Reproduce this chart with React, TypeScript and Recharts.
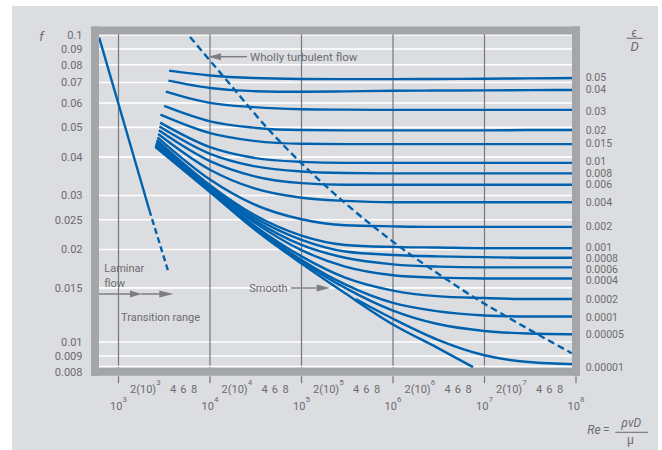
import React from 'react';
import { LineChart, Line, XAxis, YAxis, CartesianGrid, ReferenceLine } from 'recharts';

// ---------- colours / fonts ----------
const BLUE = '#0062ae';
const TEXT = '#6b6c6f';
const BAR = '#a3a5a8';
const GRIDV = '#76777a';
const BG = '#dcdde0';
const ARROW = '#7d7e81';
const FONT = 'Roboto, "Liberation Sans", "DejaVu Sans", sans-serif';

// ---------- axes ----------
const xDomain: [number, number] = [553.5, 1e8];
const yDomain: [number, number] = [0.008, 0.1034];
const xTicks = [1e3, 1e4, 1e5, 1e6, 1e7, 1e8];
const yTicks = [0.1, 0.09, 0.08, 0.07, 0.06, 0.05, 0.04, 0.03, 0.025, 0.02, 0.015, 0.01, 0.009, 0.008];
const bottomWhiteLine = 0.00832;

// right-hand relative-roughness labels and their f positions
const epsLabels = ['0.05', '0.04', '0.03', '0.02', '0.015', '0.01', '0.008', '0.006', '0.004', '0.002', '0.001', '0.0008', '0.0006', '0.0004', '0.0002', '0.0001', '0.00005', '0.00001'];
const epsLabelF = [0.0728, 0.0665, 0.0564, 0.049, 0.0444, 0.0387, 0.0354, 0.0326, 0.0286, 0.0238, 0.0203, 0.0187, 0.0172, 0.0159, 0.0138, 0.012, 0.0106, 0.00825];

// ---------- transition-zone curves ----------
const reGrid = [1e4, 3e4, 1e5, 3e5, 1e6, 3e6, 1e7, 3e7, 1e8];
const startRe = [3577, 3515, 3292, 3155, 2873, 2852, 2803, 2761, 2713, 2666, 2620, 2600, 2580, 2560, 2550, 2540, 2530];
const startF = [0.0765, 0.071, 0.0654, 0.0587, 0.055, 0.0518, 0.0503, 0.0489, 0.0476, 0.0464, 0.0455, 0.045, 0.0446, 0.0442, 0.0438, 0.0436, 0.0434];

const f_05 = [0.0738, 0.0724, 0.0719, 0.0718, 0.0718, 0.0719, 0.072, 0.0722, 0.0724];
const f_04 = [0.0672, 0.0656, 0.0653, 0.0655, 0.0658, 0.0659, 0.066, 0.0661, 0.0662];
const f_03 = [0.0601, 0.0582, 0.0573, 0.0571, 0.057, 0.057, 0.057, 0.057, 0.057];
const f_02 = [0.0523, 0.0499, 0.049, 0.0489, 0.0489, 0.0489, 0.0489, 0.049, 0.049];
const f_015 = [0.0479, 0.0452, 0.0442, 0.0441, 0.0441, 0.0441, 0.0441, 0.0441, 0.0441];
const f_01 = [0.0431, 0.0398, 0.0386, 0.0383, 0.0383, 0.0383, 0.0383, 0.0383, 0.0383];
const f_008 = [0.041, 0.0374, 0.0359, 0.0355, 0.0354, 0.0354, 0.0354, 0.0354, 0.0354];
const f_006 = [0.0388, 0.0347, 0.0329, 0.0325, 0.0325, 0.0325, 0.0325, 0.0325, 0.0325];
const f_004 = [0.0364, 0.0317, 0.0295, 0.0288, 0.0285, 0.0285, 0.0285, 0.0285, 0.0285];
const f_002 = [0.0338, 0.0281, 0.0251, 0.024, 0.0238, 0.0237, 0.0237, 0.0237, 0.0237];
const f_001 = [0.0324, 0.026, 0.0222, 0.0207, 0.0204, 0.0203, 0.0202, 0.0202, 0.0202];
const f_0008 = [0.0321, 0.0255, 0.0215, 0.0197, 0.0192, 0.019, 0.0189, 0.0188, 0.0188];
const f_0006 = [0.0318, 0.025, 0.0207, 0.0188, 0.0179, 0.0176, 0.0175, 0.0175, 0.0175];
const f_0004 = [0.0315, 0.0246, 0.0199, 0.0176, 0.0165, 0.0162, 0.0161, 0.0161, 0.0161];
const f_0002 = [0.0312, 0.024, 0.019, 0.0162, 0.0147, 0.0141, 0.0139, 0.0138, 0.0138];
const f_0001 = [0.031, 0.0238, 0.0185, 0.0154, 0.0134, 0.0126, 0.0122, 0.0121, 0.0121];
const f_00005 = [0.0309, 0.0236, 0.0183, 0.015, 0.01265, 0.01146, 0.01086, 0.01066, 0.0106];

const roughSeries = [f_05, f_04, f_03, f_02, f_015, f_01, f_008, f_006, f_004, f_002, f_001, f_0008, f_0006, f_0004, f_0002, f_0001, f_00005];

// ε/D = 0.00001 branch (leaves the smooth curve)
const re_00001 = [3.9e5, 1e6, 3e6, 1e7, 3e7, 1e8];
const f_00001 = [0.0138, 0.0119, 0.0102, 0.00905, 0.0086, 0.00846];

// smooth pipe
const reSmooth = [2520, 1e4, 3e4, 1e5, 3e5, 1e6, 3e6, 7.5e6];
const fSmooth = [0.0432, 0.0308, 0.0234, 0.018, 0.0144, 0.0114, 0.0096, 0.00828];

// laminar flow
const reLaminar = [615, 2171];
const fLaminar = [0.098, 0.0269];
const reLaminarDash = [2171, 3490];
const fLaminarDash = [0.0269, 0.017];

// wholly turbulent boundary (dashed)
const reTurb = [6050, 14950, 45350, 102700, 296700, 653600, 1428000, 3965000, 8540000, 18260000, 38950000, 89800000];
const fTurb = [0.0985, 0.0716, 0.0486, 0.0379, 0.0284, 0.0234, 0.0196, 0.0159, 0.0137, 0.012, 0.01055, 0.00919];

const pts = (re: number[], f: number[]) => re.map((r, i) => ({ Re: r, f: f[i] }));

const roughData = roughSeries.map((vals, k) => [
  { Re: startRe[k], f: startF[k] },
  ...reGrid.map((r, i) => ({ Re: r, f: vals[i] })),
]);

const barStyle = { stroke: BAR, strokeWidth: 8, strokeLinecap: 'square' as const };

const XTick = (props: any) => {
  const { x, y, payload } = props;
  const exp = Math.round(Math.log10(payload.value));
  return (
    <g fill={TEXT} fontFamily={FONT} fontSize={11}>
      <line x1={x} x2={x} y1={y + 4.5} y2={y + 11.5} stroke={GRIDV} strokeWidth={1.2} />
      <text x={x} y={y + 38.3} textAnchor="middle">
        10<tspan dy={-8} fontSize={8}>{exp}</tspan>
      </text>
      {exp < 8 && (
        <g>
          <text x={x + 11.5} y={y + 21.3}>
            2(10)<tspan dy={-8.5} fontSize={8}>{exp}</tspan>
          </text>
          <text x={x + 54.5} y={y + 21.3} textAnchor="middle">4</text>
          <text x={x + 64.8} y={y + 21.3} textAnchor="middle">6</text>
          <text x={x + 75.5} y={y + 21.3} textAnchor="middle">8</text>
        </g>
      )}
    </g>
  );
};

const YTick = (props: any) => {
  const { x, y, payload } = props;
  return (
    <text x={x - 12.5} y={y} dy="0.35em" textAnchor="end" fill={TEXT} fontFamily={FONT} fontSize={11}>
      {String(payload.value)}
    </text>
  );
};

const EpsTick = (props: any) => {
  const { x, y, payload } = props;
  const idx = epsLabelF.indexOf(payload.value);
  return (
    <text x={x + 9.7} y={y} dy="0.35em" textAnchor="start" fill={TEXT} fontFamily={FONT} fontSize={10.5}>
      {idx >= 0 ? epsLabels[idx] : ''}
    </text>
  );
};

const lineProps = {
  dataKey: 'f',
  stroke: BLUE,
  strokeWidth: 2.4,
  dot: false,
  activeDot: false,
  isAnimationActive: false,
  legendType: 'none' as const,
};

export default function App() {
  return (
    <div style={{ position: 'absolute', left: 0, top: 0, width: 662, height: 450, background: '#fff', overflow: 'hidden' }}>
      <div style={{ position: 'absolute', left: 12, top: 6, width: 646, height: 444, background: BG }} />
      <div style={{ position: 'absolute', left: 0, top: 0 }}>
        <LineChart width={662} height={450} margin={{ top: 20.5, right: 26, bottom: 38.3, left: 35 }}>
          <CartesianGrid vertical={false} stroke="#ffffff" strokeWidth={1.6} />
          <CartesianGrid horizontal={false} stroke={GRIDV} strokeWidth={1.2} />
          <ReferenceLine y={bottomWhiteLine} stroke="#ffffff" strokeWidth={1.6} />
          <XAxis
            dataKey="Re"
            type="number"
            scale="log"
            domain={xDomain}
            allowDataOverflow
            ticks={xTicks}
            interval={0}
            height={40}
            tickSize={0}
            tickMargin={0}
            tickLine={false}
            axisLine={barStyle}
            tick={<XTick />}
          />
          <XAxis
            xAxisId="top"
            orientation="top"
            type="number"
            scale="log"
            domain={xDomain}
            allowDataOverflow
            height={10}
            tick={false}
            tickLine={false}
            axisLine={barStyle}
          />
          <YAxis
            type="number"
            scale="log"
            domain={yDomain}
            allowDataOverflow
            ticks={yTicks}
            interval={0}
            width={60}
            tickSize={0}
            tickMargin={0}
            tickLine={false}
            axisLine={barStyle}
            tick={<YTick />}
          />
          <YAxis
            yAxisId="eps"
            orientation="right"
            type="number"
            scale="log"
            domain={yDomain}
            allowDataOverflow
            ticks={epsLabelF}
            interval={0}
            width={60}
            tickSize={0}
            tickMargin={0}
            tickLine={false}
            axisLine={barStyle}
            tick={<EpsTick />}
          />
          {roughData.map((d, k) => (
            <Line key={`rough-${k}`} type="monotone" data={d} {...lineProps} />
          ))}
          <Line key="eps-00001" type="monotone" data={pts(re_00001, f_00001)} {...lineProps} />
          <Line key="smooth" type="monotone" data={pts(reSmooth, fSmooth)} {...lineProps} />
          <Line key="laminar" type="linear" data={pts(reLaminar, fLaminar)} {...lineProps} />
          <Line key="laminar-dash" type="linear" data={pts(reLaminarDash, fLaminarDash)} {...lineProps} strokeDasharray="6 3.5" />
          <Line key="turbulent" type="monotone" data={pts(reTurb, fTurb)} {...lineProps} strokeDasharray="7 4" />
        </LineChart>
      </div>
      <svg width={662} height={450} style={{ position: 'absolute', left: 0, top: 0, pointerEvents: 'none' }}>
        <g fontFamily={FONT} fill={TEXT} fontSize={11}>
          <text x={41.5} y={36} dy="0.35em" textAnchor="middle" fontStyle="italic" fontSize={13}>f</text>
          <text x={634.2} y={32.3} dy="0.35em" textAnchor="middle" fontSize={12}>ϵ</text>
          <line x1={626.7} x2={642.7} y1={38.3} y2={38.3} stroke={TEXT} strokeWidth={1} />
          <text x={634.7} y={46.7} dy="0.35em" textAnchor="middle" fontStyle="italic" fontSize={13}>D</text>

          <text x={587.3} y={430} dy="0.35em" fontStyle="italic" fontSize={12}>Re</text>
          <text x={606.3} y={430} dy="0.35em" textAnchor="middle" fontSize={12}>=</text>
          <line x1={615.3} x2={648} y1={432.3} y2={432.3} stroke={TEXT} strokeWidth={1} />
          <text x={631.3} y={426.7} textAnchor="middle" fontStyle="italic" fontSize={12}>ρvD</text>
          <text x={630.3} y={444} textAnchor="middle" fontSize={12}>μ</text>

          <text x={250} y={56.7} dy="0.35em" fontSize={11.5}>Wholly turbulent flow</text>
          <text x={104.3} y={267.7} dy="0.35em">Laminar</text>
          <text x={104.3} y={283.3} dy="0.35em">flow</text>
          <text x={121} y={317.3} dy="0.35em">Transition range</text>
          <text x={249.3} y={287.7} dy="0.35em">Smooth</text>
        </g>
        <g stroke={ARROW} strokeWidth={1.5} fill={ARROW}>
          <line x1={221} x2={247} y1={56.7} y2={56.7} />
          <polygon points="208.3,56.7 221,53.2 221,60.2" stroke="none" />
          <line x1={99} x2={131} y1={294} y2={294} />
          <polygon points="141.7,294 130,290.6 130,297.4" stroke="none" />
          <line x1={141} x2={160} y1={294} y2={294} />
          <polygon points="173.3,294 159.3,290.6 159.3,297.4" stroke="none" />
          <line x1={290.7} x2={317.5} y1={288} y2={288} />
          <polygon points="330,288 316.7,284.6 316.7,291.4" stroke="none" />
        </g>
      </svg>
    </div>
  );
}
